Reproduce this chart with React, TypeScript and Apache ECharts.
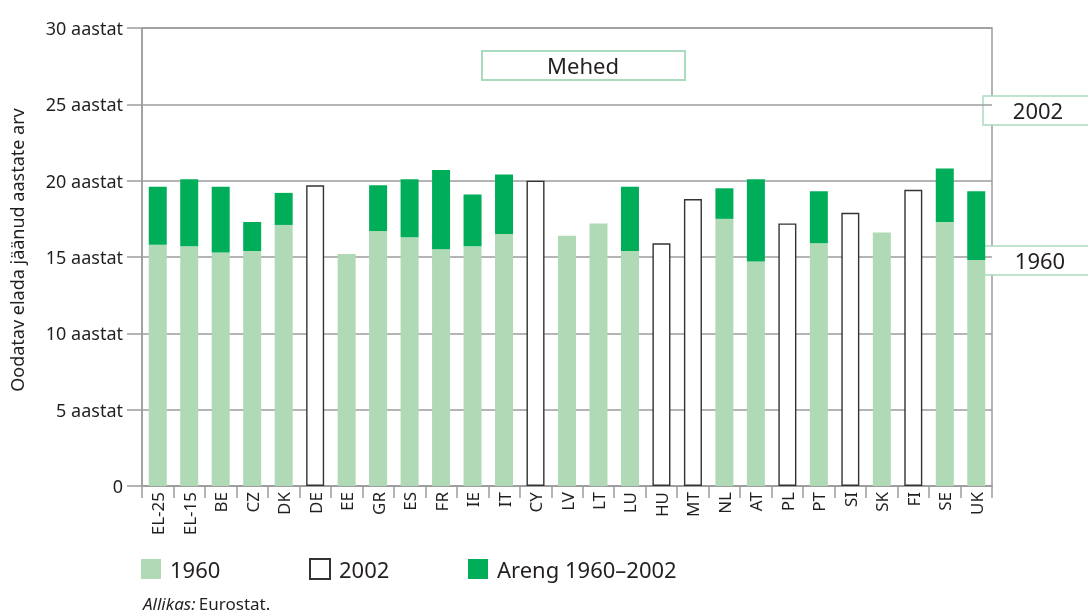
import React, { useEffect, useRef } from "react";
import * as echarts from "echarts";

const categories = ["EL-25", "EL-15", "BE", "CZ", "DK", "DE", "EE", "GR", "ES", "FR", "IE", "IT", "CY", "LV", "LT", "LU", "HU", "MT", "NL", "AT", "PL", "PT", "SI", "SK", "FI", "SE", "UK"];
// life expectancy at 65 (men), 1960
const values1960: (number | null)[] = [15.8, 15.7, 15.3, 15.4, 17.1, null, 15.2, 16.7, 16.3, 15.5, 15.7, 16.5, null, 16.4, 17.2, 15.4, null, null, 17.5, 14.7, null, 15.9, null, 16.6, null, 17.3, 14.8];
// life expectancy at 65 (men), 2002
const values2002: (number | null)[] = [19.6, 20.1, 19.6, 17.3, 19.2, 19.7, null, 19.7, 20.1, 20.7, 19.1, 20.4, 20.0, null, null, 19.6, 15.9, 18.8, 19.5, 20.1, 17.2, 19.3, 17.9, null, 19.4, 20.8, 19.3];
const yTicks = [0, 5, 10, 15, 20, 25, 30];

const LIGHT = "#b0d9b6";
const DARK = "#00ae5a";
const GRID = "#9d9d9d";
const TEXT = "#231f20";
const BOXBORDER = "#a9dcbf";
const FONT = "'Noto Sans', sans-serif";

export default function App() {
  const ref = useRef<HTMLDivElement>(null);
  useEffect(() => {
    if (!ref.current) return;
    const chart = echarts.init(ref.current, null, { renderer: "svg" });

    const increase = values1960.map((v, i) => {
      const t = values2002[i];
      return v != null && t != null ? +(t - v).toFixed(2) : null;
    });
    const only2002 = values1960.map((v, i) => (v == null ? values2002[i] : null));

    const legendCommon = {
      top: 558,
      padding: 0,
      itemWidth: 20,
      itemHeight: 20,
      icon: "rect",
      selectedMode: false,
      textStyle: { fontFamily: FONT, fontSize: 22, color: TEXT, padding: [0, 0, 0, 4] },
    };

    chart.setOption({
      animation: false,
      textStyle: { fontFamily: FONT },
      grid: {
        left: 142,
        right: 96,
        top: 28,
        bottom: 128,
        containLabel: false,
        outerBoundsMode: "none",
        show: true,
        borderColor: GRID,
        borderWidth: 1.5,
        backgroundColor: "transparent",
      },
      legend: [
        { ...legendCommon, left: 141, data: ["1960"] },
        { ...legendCommon, left: 309, data: ["2002"] },
        { ...legendCommon, left: 468, data: ["Areng 1960–2002"] },
      ],
      xAxis: {
        type: "category",
        data: categories,
        axisLine: { lineStyle: { color: GRID, width: 1.5 } },
        axisTick: { show: true, length: 12, interval: 0, lineStyle: { color: GRID, width: 1.5 } },
        axisLabel: { interval: 0, rotate: 90, margin: 6, fontSize: 17, color: TEXT, fontFamily: FONT },
      },
      yAxis: {
        type: "value",
        min: yTicks[0],
        max: yTicks[yTicks.length - 1],
        interval: 5,
        name: "Oodatav elada jäänud aastate arv",
        nameLocation: "middle",
        nameGap: 116,
        nameTextStyle: { fontSize: 18, color: TEXT, fontFamily: FONT, padding: [0, 0, 0, 14] },
        axisLine: { show: true, lineStyle: { color: GRID, width: 1.5 } },
        axisTick: { show: true, length: 15, lineStyle: { color: GRID, width: 1.5 } },
        splitLine: { show: true, lineStyle: { color: GRID, width: 1.5 } },
        axisLabel: {
          margin: 19,
          fontSize: 18,
          color: TEXT,
          fontFamily: FONT,
          formatter: (v: number) => (v === 0 ? "0" : `${v} aastat`),
        },
      },
      series: [
        {
          name: "1960",
          type: "bar",
          stack: "a",
          barWidth: 18,
          data: values1960,
          itemStyle: { color: LIGHT },
        },
        {
          name: "Areng 1960–2002",
          type: "bar",
          stack: "a",
          barWidth: 18,
          data: increase,
          itemStyle: { color: DARK },
        },
        {
          name: "2002",
          type: "bar",
          stack: "a",
          barWidth: 18,
          data: only2002,
          itemStyle: { color: "#ffffff", borderColor: "#333333", borderWidth: 1.4 },
        },
      ],
      graphic: [
        {
          type: "group",
          children: [
            {
              type: "rect",
              shape: { x: 482, y: 51, width: 203, height: 29 },
              style: { fill: "#ffffff", stroke: BOXBORDER, lineWidth: 2 },
            },
            {
              type: "text",
              x: 583,
              y: 65,
              style: { text: "Mehed", fontSize: 22, fontFamily: FONT, fill: TEXT, align: "center", verticalAlign: "middle" },
            },
            {
              type: "rect",
              shape: { x: 983, y: 96, width: 120, height: 29 },
              style: { fill: "#ffffff", stroke: BOXBORDER, lineWidth: 1.5 },
            },
            {
              type: "text",
              x: 1038,
              y: 110,
              style: { text: "2002", fontSize: 22, fontFamily: FONT, fill: TEXT, align: "center", verticalAlign: "middle" },
            },
            {
              type: "rect",
              shape: { x: 984, y: 246, width: 120, height: 29 },
              style: { fill: "#ffffff", stroke: BOXBORDER, lineWidth: 1.5 },
            },
            {
              type: "text",
              x: 1040,
              y: 260,
              style: { text: "1960", fontSize: 22, fontFamily: FONT, fill: TEXT, align: "center", verticalAlign: "middle" },
            },
            {
              type: "text",
              x: 143,
              y: 603,
              style: {
                text: "{i|Allikas:} {n|Eurostat.}",
                verticalAlign: "middle",
                rich: {
                  i: { fontStyle: "italic", fontSize: 17, lineHeight: 20, fontFamily: FONT, fill: TEXT },
                  n: { fontSize: 17, lineHeight: 20, fontFamily: FONT, fill: TEXT },
                },
              },
            },
          ],
        },
      ],
    });
    return () => chart.dispose();
  }, []);
  return <div ref={ref} style={{ position: "fixed", left: 0, top: 0, width: 1088, height: 614 }} />;
}
